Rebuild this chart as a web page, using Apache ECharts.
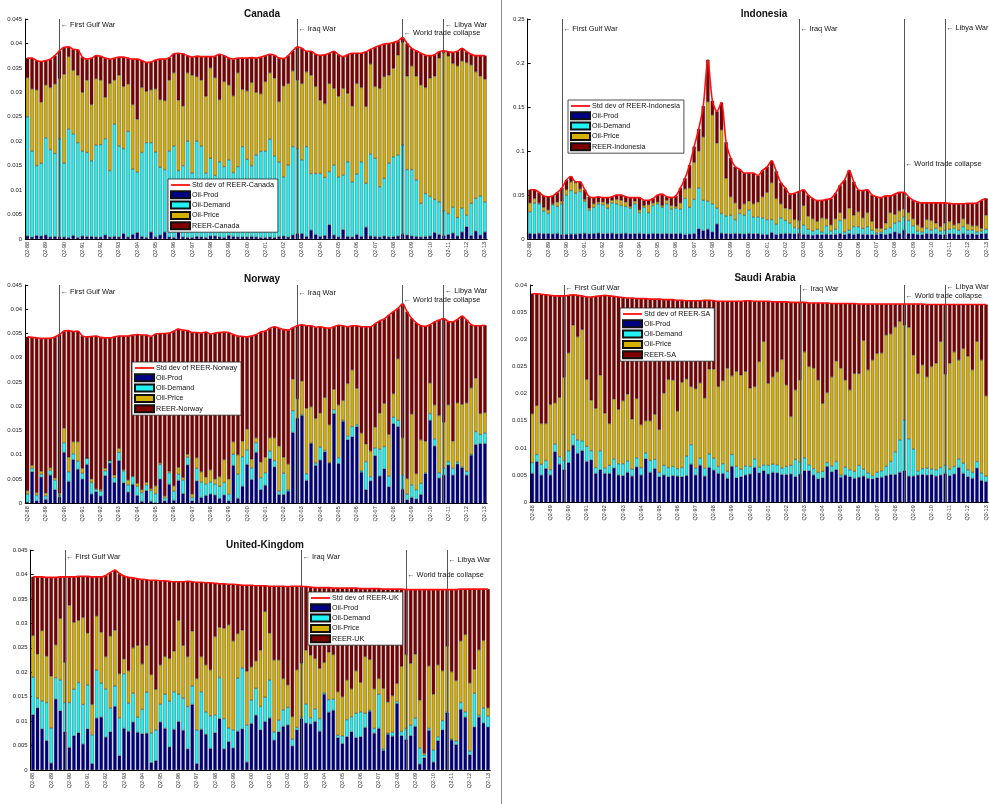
<!DOCTYPE html>
<html><head><meta charset="utf-8">
<script src="https://cdn.jsdelivr.net/npm/echarts/dist/echarts.min.js"></script>
<style>html,body{margin:0;padding:0;background:#fff}#c{width:989px;height:804px}</style>
</head><body><div id="c"></div>
<script>
// ---------- tick labels / categories ----------
const tickLabels = ['Q2-88','Q2-89','Q2-90','Q2-91','Q2-92','Q2-93','Q2-94','Q2-95','Q2-96','Q2-97','Q2-98','Q2-99','Q2-00','Q2-01','Q2-02','Q2-03','Q2-04','Q2-05','Q2-06','Q2-07','Q2-08','Q2-09','Q2-10','Q2-11','Q2-12','Q2-13'];
const categories = [];
for (let i = 0; i < 101; i++) {
  const q = (i + 1) % 4 + 1;
  const y = (88 + Math.floor((i + 1) / 4)) % 100;
  categories.push('Q' + q + '-' + String(y).padStart(2, '0'));
}
const eventNames = ['First Gulf War', 'Iraq War', 'World trade collapse', 'Libya War'];
const eventIndex = [7, 59, 82, 91];

// ---------- Canada (cumulative stack levels) ----------
const caProd = [0.0006,0.0004,0.0007,0.0006,0.0008,0.0004,0.0005,0.0004,0.0004,0.0003,
0.0007,0.0003,0.0006,0.0005,0.0005,0.0004,0.0004,0.0008,0.0004,0.0005,
0.0004,0.0011,0.0004,0.0009,0.0013,0.0005,0.0003,0.0014,0.0004,0.0008,
0.0014,0.0004,0.0003,0.0014,0.0004,0.0003,0.0003,0.0005,0.0004,0.0003,
0.0006,0.0006,0.0004,0.0003,0.0007,0.0005,0.0004,0.0004,0.0004,0.0005,
0.0004,0.0003,0.0003,0.0004,0.0003,0.0005,0.0006,0.0004,0.0008,0.0011,
0.0011,0.0005,0.0018,0.0009,0.0005,0.0007,0.0029,0.0008,0.0004,0.0019,
0.0005,0.0004,0.0009,0.0005,0.0024,0.0006,0.0005,0.0004,0.0006,0.0004,
0.0005,0.0006,0.0010,0.0008,0.0006,0.0005,0.0004,0.0005,0.0006,0.0013,
0.0009,0.0007,0.0009,0.0012,0.0006,0.0014,0.0025,0.0007,0.0016,0.0008,0.0014];
const caDemandTop = [0.0250,0.0180,0.0150,0.0155,0.0207,0.0183,0.0175,0.0205,0.0155,0.0225,
0.0215,0.0197,0.0180,0.0177,0.0160,0.0192,0.0193,0.0205,0.0140,0.0235,
0.0190,0.0185,0.0220,0.0143,0.0137,0.0177,0.0197,0.0197,0.0178,0.0147,
0.0142,0.0180,0.0190,0.0140,0.0150,0.0200,0.0135,0.0200,0.0190,0.0135,
0.0165,0.0130,0.0158,0.0148,0.0162,0.0136,0.0148,0.0189,0.0163,0.0150,
0.0172,0.0179,0.0180,0.0204,0.0170,0.0157,0.0127,0.0151,0.0189,0.0185,
0.0162,0.0189,0.0134,0.0134,0.0134,0.0126,0.0138,0.0151,0.0127,0.0131,
0.0158,0.0117,0.0133,0.0158,0.0114,0.0174,0.0165,0.0107,0.0124,0.0155,
0.0168,0.0172,0.0192,0.0142,0.0142,0.0121,0.0073,0.0093,0.0087,0.0081,
0.0076,0.0058,0.0052,0.0065,0.0044,0.0063,0.0049,0.0073,0.0083,0.0088,0.0076];
const caPriceTop = [0.0330,0.0307,0.0305,0.0280,0.0315,0.0310,0.0317,0.0328,0.0337,0.0373,
0.0345,0.0335,0.0300,0.0325,0.0275,0.0328,0.0325,0.0290,0.0318,0.0325,
0.0335,0.0312,0.0317,0.0275,0.0245,0.0310,0.0302,0.0305,0.0307,0.0285,
0.0283,0.0325,0.0340,0.0284,0.0272,0.0340,0.0335,0.0332,0.0325,0.0292,
0.0350,0.0330,0.0285,0.0322,0.0315,0.0293,0.0340,0.0306,0.0303,0.0320,
0.0300,0.0297,0.0322,0.0340,0.0329,0.0281,0.0313,0.0318,0.0344,0.0325,
0.0318,0.0342,0.0335,0.0312,0.0284,0.0277,0.0318,0.0308,0.0292,0.0308,
0.0298,0.0272,0.0318,0.0310,0.0271,0.0358,0.0312,0.0308,0.0332,0.0335,
0.0349,0.0376,0.0402,0.0333,0.0354,0.0333,0.0315,0.0310,0.0329,0.0333,
0.0370,0.0381,0.0374,0.0359,0.0354,0.0364,0.0361,0.0356,0.0342,0.0333,0.0327];
const caTotal = [0.0370,0.0370,0.0365,0.0363,0.0365,0.0368,0.0375,0.0385,0.0392,0.0393,
0.0388,0.0387,0.0372,0.0368,0.0370,0.0375,0.0374,0.0370,0.0368,0.0370,
0.0372,0.0372,0.0370,0.0368,0.0368,0.0365,0.0361,0.0362,0.0366,0.0368,
0.0368,0.0371,0.0379,0.0380,0.0379,0.0375,0.0372,0.0374,0.0373,0.0373,
0.0373,0.0374,0.0378,0.0375,0.0370,0.0368,0.0370,0.0370,0.0370,0.0371,
0.0370,0.0372,0.0375,0.0378,0.0376,0.0370,0.0369,0.0375,0.0385,0.0393,
0.0390,0.0384,0.0384,0.0378,0.0376,0.0377,0.0380,0.0384,0.0377,0.0373,
0.0377,0.0380,0.0380,0.0380,0.0383,0.0388,0.0392,0.0396,0.0399,0.0400,
0.0402,0.0405,0.0412,0.0400,0.0390,0.0385,0.0380,0.0376,0.0375,0.0377,
0.0383,0.0385,0.0383,0.0382,0.0384,0.0390,0.0383,0.0378,0.0375,0.0375,0.0375];

// ---------- Indonesia ----------
const inProd = [0.0062,0.0058,0.0064,0.0060,0.0061,0.0057,0.0063,0.0050,0.0052,0.0055,
0.0054,0.0060,0.0064,0.0058,0.0061,0.0066,0.0059,0.0062,0.0065,0.0058,
0.0061,0.0064,0.0058,0.0060,0.0063,0.0059,0.0057,0.0062,0.0060,0.0058,
0.0061,0.0059,0.0060,0.0063,0.0050,0.0056,0.0060,0.0115,0.0095,0.0110,
0.0080,0.0170,0.0065,0.0060,0.0058,0.0062,0.0060,0.0057,0.0063,0.0059,
0.0060,0.0052,0.0050,0.0072,0.0050,0.0058,0.0062,0.0060,0.0058,0.0063,
0.0052,0.0051,0.0042,0.0050,0.0048,0.0053,0.0049,0.0052,0.0061,0.0050,
0.0062,0.0050,0.0058,0.0052,0.0050,0.0049,0.0051,0.0058,0.0050,0.0060,
0.0080,0.0062,0.0100,0.0060,0.0058,0.0052,0.0050,0.0061,0.0058,0.0060,
0.0052,0.0050,0.0060,0.0058,0.0050,0.0062,0.0052,0.0058,0.0050,0.0059,0.0060];
const inDemandTop = [0.031,0.041,0.040,0.032,0.029,0.039,0.037,0.040,0.050,0.055,
0.052,0.054,0.043,0.033,0.036,0.040,0.039,0.035,0.041,0.040,
0.038,0.037,0.035,0.040,0.030,0.036,0.030,0.038,0.040,0.036,
0.040,0.034,0.035,0.034,0.046,0.036,0.045,0.058,0.044,0.043,
0.040,0.035,0.029,0.026,0.027,0.022,0.029,0.027,0.033,0.025,
0.025,0.024,0.022,0.022,0.017,0.024,0.021,0.018,0.013,0.012,
0.016,0.011,0.009,0.011,0.008,0.015,0.009,0.011,0.021,0.008,
0.010,0.014,0.014,0.012,0.014,0.010,0.007,0.008,0.011,0.013,
0.018,0.020,0.025,0.021,0.015,0.009,0.008,0.012,0.010,0.012,
0.009,0.010,0.011,0.012,0.010,0.014,0.010,0.010,0.008,0.009,0.011];
const inPriceTop = [0.041,0.046,0.041,0.036,0.033,0.040,0.042,0.043,0.056,0.065,
0.064,0.057,0.045,0.035,0.040,0.042,0.042,0.040,0.044,0.045,
0.044,0.042,0.037,0.043,0.033,0.038,0.039,0.041,0.042,0.038,
0.044,0.038,0.037,0.041,0.057,0.058,0.087,0.100,0.116,0.156,
0.141,0.109,0.124,0.069,0.048,0.041,0.034,0.040,0.043,0.040,
0.042,0.048,0.053,0.064,0.046,0.040,0.035,0.034,0.022,0.021,
0.038,0.026,0.023,0.020,0.024,0.023,0.016,0.023,0.030,0.023,
0.035,0.027,0.031,0.024,0.030,0.020,0.012,0.012,0.018,0.030,
0.028,0.032,0.034,0.030,0.023,0.016,0.013,0.022,0.021,0.018,
0.014,0.018,0.020,0.016,0.018,0.023,0.017,0.015,0.015,0.012,0.027];
const inTotal = [0.056,0.056,0.053,0.049,0.048,0.049,0.053,0.058,0.067,0.071,
0.065,0.065,0.056,0.048,0.047,0.048,0.047,0.047,0.048,0.050,
0.050,0.048,0.047,0.047,0.047,0.044,0.044,0.046,0.050,0.051,
0.048,0.047,0.049,0.058,0.069,0.084,0.105,0.125,0.151,0.2035,
0.157,0.145,0.155,0.110,0.092,0.082,0.079,0.075,0.075,0.075,
0.072,0.078,0.082,0.089,0.077,0.064,0.058,0.051,0.052,0.054,
0.056,0.050,0.046,0.0436,0.044,0.045,0.046,0.052,0.061,0.067,
0.078,0.065,0.056,0.055,0.056,0.050,0.048,0.047,0.049,0.049,
0.051,0.053,0.053,0.048,0.044,0.042,0.041,0.041,0.041,0.041,
0.041,0.041,0.0405,0.040,0.040,0.040,0.0405,0.0405,0.041,0.044,0.046];

// ---------- Norway ----------
const noProd = [0.0002,0.0065,0.0005,0.0054,0.0008,0.0058,0.0028,0.0013,0.0105,0.0045,
0.0090,0.0070,0.0050,0.0080,0.0019,0.0024,0.0015,0.0057,0.0083,0.0043,
0.0088,0.0042,0.0023,0.0039,0.0016,0.0004,0.0026,0.0004,0.0001,0.0050,
0.0005,0.0039,0.0006,0.0047,0.0020,0.0079,0.0005,0.0046,0.0012,0.0016,
0.0019,0.0017,0.0010,0.0017,0.0005,0.0078,0.0010,0.0035,0.0080,0.0049,
0.0105,0.0028,0.0037,0.0092,0.0075,0.0018,0.0018,0.0025,0.0146,0.0175,
0.0181,0.0047,0.0123,0.0078,0.0089,0.0106,0.0083,0.0185,0.0082,0.0169,
0.0131,0.0137,0.0158,0.0064,0.0028,0.0046,0.0098,0.0056,0.0071,0.0034,
0.0164,0.0158,0.0029,0.0007,0.0012,0.0009,0.0018,0.0061,0.0171,0.0118,
0.0052,0.0058,0.0079,0.0058,0.0081,0.0073,0.0058,0.0099,0.0121,0.0123,0.0123];
const noDemandTop = [0.0019,0.0072,0.0017,0.0060,0.0015,0.0068,0.0048,0.0017,0.0125,0.0065,
0.0102,0.0087,0.0062,0.0093,0.0043,0.0029,0.0025,0.0067,0.0088,0.0053,
0.0105,0.0067,0.0038,0.0055,0.0035,0.0022,0.0038,0.0026,0.0020,0.0080,
0.0011,0.0063,0.0025,0.0060,0.0048,0.0095,0.0012,0.0072,0.0044,0.0040,
0.0044,0.0040,0.0035,0.0043,0.0019,0.0101,0.0060,0.0096,0.0110,0.0073,
0.0125,0.0053,0.0063,0.0108,0.0088,0.0025,0.0062,0.0028,0.0191,0.0176,
0.0183,0.0061,0.0124,0.0083,0.0116,0.0109,0.0084,0.0193,0.0094,0.0171,
0.0139,0.0158,0.0162,0.0067,0.0086,0.0055,0.0114,0.0112,0.0117,0.0056,
0.0178,0.0171,0.0059,0.0019,0.0038,0.0028,0.0041,0.0063,0.0185,0.0133,
0.0063,0.0073,0.0086,0.0072,0.0085,0.0075,0.0066,0.0101,0.0148,0.0142,0.0145];
const noPriceTop = [0.0026,0.0078,0.0022,0.0066,0.0021,0.0073,0.0052,0.0021,0.0155,0.0095,
0.0127,0.0127,0.0072,0.0093,0.0050,0.0030,0.0028,0.0072,0.0088,0.0058,
0.0113,0.0069,0.0048,0.0056,0.0041,0.0028,0.0043,0.0030,0.0036,0.0083,
0.0015,0.0066,0.0036,0.0074,0.0053,0.0101,0.0019,0.0094,0.0065,0.0054,
0.0069,0.0050,0.0055,0.0090,0.0050,0.0127,0.0100,0.0128,0.0153,0.0091,
0.0135,0.0085,0.0095,0.0135,0.0135,0.0118,0.0095,0.0081,0.0256,0.0215,
0.0252,0.0196,0.0199,0.0175,0.0186,0.0218,0.0162,0.0235,0.0203,0.0212,
0.0247,0.0275,0.0237,0.0145,0.0122,0.0108,0.0157,0.0186,0.0206,0.0142,
0.0226,0.0298,0.0135,0.0051,0.0184,0.0061,0.0131,0.0128,0.0248,0.0203,
0.0181,0.0167,0.0203,0.0128,0.0207,0.0204,0.0207,0.0238,0.0258,0.0185,0.0187];
const noTotal = [0.0343,0.0342,0.0341,0.0340,0.0340,0.0340,0.0343,0.0348,0.0355,0.0356,
0.0354,0.0355,0.0345,0.0343,0.0344,0.0345,0.0342,0.0341,0.0341,0.0343,
0.0345,0.0345,0.0345,0.0347,0.0348,0.0347,0.0347,0.0344,0.0349,0.0350,
0.0350,0.0351,0.0355,0.0359,0.0357,0.0356,0.0352,0.0352,0.0351,0.0353,
0.0349,0.0351,0.0352,0.0353,0.0352,0.0348,0.0345,0.0344,0.0343,0.0345,
0.0348,0.0353,0.0355,0.0361,0.0364,0.0361,0.0358,0.0357,0.0362,0.0366,
0.0368,0.0366,0.0366,0.0363,0.0364,0.0362,0.0361,0.0364,0.0367,0.0366,
0.0364,0.0366,0.0366,0.0364,0.0364,0.0364,0.0370,0.0376,0.0380,0.0388,
0.0395,0.0402,0.0411,0.0395,0.0381,0.0372,0.0366,0.0365,0.0368,0.0374,
0.0378,0.0381,0.0375,0.0374,0.0379,0.0386,0.0378,0.0368,0.0366,0.0366,0.0367];

// ---------- Saudi Arabia ----------
const saProd = [0.0053,0.0075,0.0050,0.0062,0.0050,0.0093,0.0070,0.0060,0.0073,0.0105,
0.0090,0.0095,0.0075,0.0078,0.0053,0.0060,0.0053,0.0053,0.0063,0.0050,
0.0049,0.0055,0.0048,0.0065,0.0050,0.0080,0.0055,0.0062,0.0047,0.0050,
0.0047,0.0049,0.0048,0.0047,0.0049,0.0070,0.0050,0.0068,0.0048,0.0064,
0.0059,0.0053,0.0053,0.0044,0.0066,0.0045,0.0047,0.0050,0.0052,0.0064,
0.0054,0.0058,0.0052,0.0055,0.0054,0.0051,0.0051,0.0052,0.0047,0.0052,
0.0058,0.0058,0.0050,0.0043,0.0045,0.0066,0.0056,0.0060,0.0046,0.0050,
0.0047,0.0044,0.0046,0.0048,0.0044,0.0043,0.0045,0.0046,0.0049,0.0051,
0.0051,0.0055,0.0058,0.0048,0.0048,0.0050,0.0051,0.0050,0.0051,0.0048,
0.0050,0.0053,0.0049,0.0052,0.0064,0.0053,0.0047,0.0044,0.0063,0.0040,0.0038];
const saDemandTop = [0.0073,0.0088,0.0070,0.0077,0.0060,0.0107,0.0084,0.0077,0.0095,0.0125,
0.0115,0.0113,0.0103,0.0095,0.0064,0.0095,0.0063,0.0068,0.0080,0.0071,
0.0071,0.0076,0.0061,0.0082,0.0064,0.0091,0.0077,0.0079,0.0055,0.0068,
0.0064,0.0066,0.0062,0.0064,0.0085,0.0106,0.0063,0.0081,0.0063,0.0089,
0.0081,0.0066,0.0071,0.0057,0.0088,0.0066,0.0061,0.0067,0.0066,0.0080,
0.0065,0.0069,0.0068,0.0070,0.0069,0.0063,0.0066,0.0068,0.0079,0.0074,
0.0082,0.0069,0.0062,0.0055,0.0057,0.0073,0.0067,0.0075,0.0050,0.0065,
0.0060,0.0057,0.0068,0.0061,0.0054,0.0049,0.0055,0.0058,0.0066,0.0075,
0.0093,0.0115,0.0152,0.0117,0.0098,0.0058,0.0062,0.0063,0.0061,0.0060,
0.0064,0.0068,0.0061,0.0066,0.0080,0.0072,0.0060,0.0055,0.0075,0.0054,0.0048];
const saPriceTop = [0.0163,0.0178,0.0145,0.0145,0.0180,0.0183,0.0193,0.0230,0.0275,0.0326,
0.0305,0.0318,0.0226,0.0188,0.0173,0.0234,0.0164,0.0145,0.0190,0.0171,
0.0187,0.0199,0.0153,0.0191,0.0143,0.0150,0.0150,0.0162,0.0134,0.0201,
0.0226,0.0225,0.0168,0.0221,0.0227,0.0213,0.0209,0.0220,0.0192,0.0245,
0.0245,0.0213,0.0224,0.0247,0.0233,0.0241,0.0234,0.0241,0.0210,0.0213,
0.0259,0.0296,0.0219,0.0231,0.0240,0.0263,0.0216,0.0158,0.0207,0.0225,
0.0277,0.0250,0.0247,0.0225,0.0182,0.0202,0.0231,0.0260,0.0247,0.0225,
0.0207,0.0237,0.0237,0.0298,0.0244,0.0262,0.0274,0.0275,0.0308,0.0310,
0.0323,0.0333,0.0326,0.0322,0.0271,0.0237,0.0253,0.0231,0.0250,0.0256,
0.0296,0.0236,0.0256,0.0277,0.0262,0.0283,0.0269,0.0244,0.0296,0.0262,0.0196];
const saTotal = [0.0384,0.0384,0.0383,0.0382,0.0381,0.0380,0.0380,0.0380,0.0381,0.0382,
0.0381,0.0380,0.0378,0.0378,0.0379,0.0380,0.0381,0.0380,0.0379,0.0378,
0.0377,0.0376,0.0376,0.0375,0.0375,0.0375,0.0374,0.0374,0.0374,0.0373,
0.0373,0.0373,0.0372,0.0372,0.0371,0.0371,0.0371,0.0371,0.0372,0.0372,
0.0371,0.0370,0.0370,0.0370,0.0370,0.0370,0.0370,0.0371,0.0371,0.0370,
0.0370,0.0370,0.0370,0.0369,0.0369,0.0369,0.0369,0.0368,0.0368,0.0368,
0.0368,0.0367,0.0367,0.0367,0.0367,0.0367,0.0366,0.0366,0.0366,0.0366,
0.0366,0.0366,0.0365,0.0365,0.0365,0.0365,0.0365,0.0365,0.0365,0.0365,
0.0365,0.0365,0.0365,0.0365,0.0365,0.0365,0.0365,0.0364,0.0364,0.0364,
0.0364,0.0364,0.0364,0.0364,0.0364,0.0364,0.0364,0.0364,0.0364,0.0364,0.0364];

// ---------- United-Kingdom ----------
const ukProd = [0.0113,0.0127,0.0084,0.0060,0.0014,0.0145,0.0121,0.0078,0.0046,0.0070,
0.0076,0.0053,0.0084,0.0013,0.0106,0.0108,0.0067,0.0078,0.0130,0.0029,
0.0085,0.0079,0.0098,0.0077,0.0074,0.0075,0.0015,0.0019,0.0098,0.0085,
0.0047,0.0083,0.0099,0.0081,0.0043,0.0134,0.0013,0.0083,0.0073,0.0044,
0.0076,0.0105,0.0043,0.0058,0.0045,0.0079,0.0084,0.0016,0.0095,0.0112,
0.0082,0.0099,0.0106,0.0061,0.0078,0.0089,0.0092,0.0049,0.0082,0.0105,
0.0096,0.0094,0.0099,0.0079,0.0155,0.0118,0.0122,0.0066,0.0054,0.0068,
0.0078,0.0066,0.0068,0.0087,0.0120,0.0075,0.0085,0.0040,0.0073,0.0069,
0.0136,0.0070,0.0062,0.0070,0.0089,0.0012,0.0025,0.0081,0.0016,0.0060,
0.0082,0.0117,0.0061,0.0052,0.0124,0.0108,0.0031,0.0088,0.0108,0.0096,0.0088];
const ukDemandTop = [0.0190,0.0147,0.0141,0.0138,0.0086,0.0189,0.0184,0.0138,0.0138,0.0165,
0.0179,0.0134,0.0174,0.0072,0.0204,0.0178,0.0166,0.0127,0.0172,0.0107,
0.0197,0.0137,0.0157,0.0108,0.0124,0.0159,0.0076,0.0082,0.0135,0.0155,
0.0141,0.0160,0.0155,0.0147,0.0130,0.0172,0.0082,0.0160,0.0119,0.0111,
0.0113,0.0189,0.0105,0.0086,0.0082,0.0188,0.0209,0.0092,0.0143,0.0167,
0.0130,0.0149,0.0184,0.0078,0.0102,0.0123,0.0128,0.0063,0.0087,0.0108,
0.0135,0.0107,0.0125,0.0105,0.0158,0.0144,0.0145,0.0071,0.0070,0.0103,
0.0109,0.0116,0.0119,0.0116,0.0122,0.0085,0.0155,0.0043,0.0075,0.0077,
0.0140,0.0079,0.0085,0.0092,0.0106,0.0045,0.0031,0.0085,0.0041,0.0068,
0.0101,0.0119,0.0063,0.0059,0.0138,0.0119,0.0039,0.0157,0.0112,0.0127,0.0110];
const ukPriceTop = [0.0275,0.0237,0.0285,0.0233,0.0192,0.0256,0.0310,0.0220,0.0337,0.0302,
0.0306,0.0312,0.0280,0.0134,0.0315,0.0282,0.0232,0.0274,0.0286,0.0197,
0.0227,0.0203,0.0250,0.0255,0.0217,0.0255,0.0195,0.0165,0.0215,0.0232,
0.0228,0.0243,0.0306,0.0255,0.0232,0.0284,0.0187,0.0232,0.0215,0.0205,
0.0273,0.0292,0.0290,0.0297,0.0264,0.0279,0.0286,0.0202,0.0211,0.0223,
0.0245,0.0324,0.0280,0.0225,0.0225,0.0187,0.0174,0.0109,0.0205,0.0218,
0.0245,0.0235,0.0228,0.0208,0.0220,0.0241,0.0236,0.0160,0.0150,0.0184,
0.0166,0.0203,0.0179,0.0232,0.0226,0.0166,0.0187,0.0167,0.0139,0.0152,
0.0177,0.0212,0.0236,0.0218,0.0237,0.0143,0.0034,0.0213,0.0155,0.0215,
0.0203,0.0253,0.0201,0.0183,0.0264,0.0277,0.0178,0.0206,0.0246,0.0265,0.0127];
const ukTotal = [0.0395,0.0395,0.0395,0.0394,0.0394,0.0394,0.0395,0.0395,0.0395,0.0395,
0.0396,0.0396,0.0396,0.0395,0.0395,0.0395,0.0398,0.0404,0.0409,0.0402,
0.0397,0.0394,0.0393,0.0391,0.0390,0.0389,0.0388,0.0388,0.0387,0.0387,
0.0386,0.0385,0.0385,0.0385,0.0386,0.0385,0.0384,0.0384,0.0383,0.0383,
0.0382,0.0381,0.0381,0.0380,0.0380,0.0379,0.0378,0.0378,0.0378,0.0377,
0.0377,0.0377,0.0376,0.0376,0.0376,0.0376,0.0375,0.0376,0.0376,0.0376,
0.0375,0.0374,0.0373,0.0373,0.0373,0.0373,0.0372,0.0372,0.0372,0.0372,
0.0372,0.0372,0.0371,0.0371,0.0371,0.0371,0.0371,0.0370,0.0370,0.0370,
0.0370,0.0370,0.0369,0.0369,0.0369,0.0369,0.0369,0.0369,0.0369,0.0369,
0.0369,0.0369,0.0369,0.0369,0.0370,0.0370,0.0370,0.0370,0.0370,0.0370,0.0370];

// ---------- layout / style ----------
const COLORS = { prod: '#000086', demand: '#1ff3f3', price: '#d6b000', reer: '#800000', line: '#ff1010' };
const NARROW = "'Liberation Sans Narrow','Arial Narrow','Liberation Sans',Arial,sans-serif";
const SANS = "'Liberation Sans',Arial,sans-serif";
const LINE_ICON = 'path://M0,0 L19,0 L19,1.8 L0,1.8 Z';

const panels = [
  { title: 'Canada', reer: 'REER-Canada', prod: caProd, dem: caDemandTop, price: caPriceTop, total: caTotal,
    grid: { left: 25.2, top: 19, width: 462, height: 220 }, yMax: 0.045, yInt: 0.005,
    titlePos: [257, 4], legendPos: [168, 179],
    evY: [0.0438, 0.0430, 0.0421, 0.0438] },
  { title: 'Indonesia', reer: 'REER-Indonesia', prod: inProd, dem: inDemandTop, price: inPriceTop, total: inTotal,
    grid: { left: 527.7, top: 19, width: 462, height: 220 }, yMax: 0.25, yInt: 0.05,
    titlePos: [759, 4], legendPos: [568, 100],
    evY: [0.2386, 0.2386, 0.085, 0.2395] },
  { title: 'Norway', reer: 'REER-Norway', prod: noProd, dem: noDemandTop, price: noPriceTop, total: noTotal,
    grid: { left: 25.2, top: 285, width: 462, height: 218.3 }, yMax: 0.045, yInt: 0.005,
    titlePos: [257, 269], legendPos: [132, 362],
    evY: [0.0436, 0.0433, 0.0419, 0.0438] },
  { title: 'Saudi Arabia', reer: 'REER-SA', prod: saProd, dem: saDemandTop, price: saPriceTop, total: saTotal,
    grid: { left: 530, top: 285, width: 462, height: 217.3 }, yMax: 0.04, yInt: 0.005,
    titlePos: [760, 268], legendPos: [620, 308],
    evY: [0.0395, 0.0393, 0.0380, 0.0397] },
  { title: 'United-Kingdom', reer: 'REER-UK', prod: ukProd, dem: ukDemandTop, price: ukPriceTop, total: ukTotal,
    grid: { left: 30.7, top: 550, width: 459.6, height: 220 }, yMax: 0.045, yInt: 0.005,
    titlePos: [260, 535], legendPos: [308, 592],
    evY: [0.0436, 0.0436, 0.0399, 0.0430] }
];

const grids = [], xAxes = [], yAxes = [], series = [], titles = [], legends = [];
panels.forEach((p, k) => {
  grids.push(Object.assign({ containLabel: false }, p.grid));
  xAxes.push({
    type: 'category', gridIndex: k, data: categories, boundaryGap: true,
    axisLine: { show: true, lineStyle: { color: '#000', width: 1 } },
    axisTick: { show: false },
    axisLabel: { rotate: 90, fontSize: 5.5, color: '#333', fontFamily: SANS, margin: 3,
      interval: (i) => i % 4 === 0 }
  });
  yAxes.push({
    type: 'value', gridIndex: k, min: 0, max: p.yMax, interval: p.yInt,
    splitLine: { show: false },
    axisLine: { show: true, lineStyle: { color: '#000', width: 1 } },
    axisTick: { show: true, inside: true, length: 3, lineStyle: { color: '#000' } },
    axisLabel: { fontSize: 6, color: '#222', fontFamily: SANS, margin: 3 }
  });
  const demand = p.dem.map((v, i) => +(Math.max(0, v - p.prod[i])).toFixed(5));
  const price = p.price.map((v, i) => +(Math.max(0, v - p.dem[i])).toFixed(5));
  const reer = p.total.map((v, i) => +(Math.max(0, v - p.price[i])).toFixed(5));
  const barBase = { type: 'bar', xAxisIndex: k, yAxisIndex: k, stack: 'p' + k, barCategoryGap: '26%',
    animation: false };
  const bs = (c) => ({ color: c, borderColor: '#111', borderWidth: 0.35 });
  series.push(Object.assign({}, barBase, { name: 'Oil-Prod', data: p.prod, itemStyle: bs(COLORS.prod) }));
  series.push(Object.assign({}, barBase, { name: 'Oil-Demand', data: demand, itemStyle: bs(COLORS.demand) }));
  series.push(Object.assign({}, barBase, { name: 'Oil-Price', data: price, itemStyle: bs(COLORS.price) }));
  series.push(Object.assign({}, barBase, { name: p.reer, data: reer, itemStyle: bs(COLORS.reer) }));
  const stdName = 'Std dev of ' + p.reer;
  series.push({
    type: 'line', name: stdName, xAxisIndex: k, yAxisIndex: k, data: p.total,
    symbol: 'none', smooth: 0.25, z: 5, animation: false,
    lineStyle: { color: COLORS.line, width: 1.6 }, itemStyle: { color: COLORS.line },
    markLine: {
      silent: true, symbol: 'none', animation: false,
      lineStyle: { color: '#555', width: 1, type: 'solid' }, label: { show: false },
      data: eventIndex.map(ix => [{ coord: [ix, p.yMax] }, { coord: [ix, 0] }])
    },
    markPoint: {
      silent: true, symbol: 'circle', symbolSize: 0, animation: false,
      label: { show: true, position: 'right', distance: 1, fontSize: 7.4, color: '#111', fontFamily: NARROW },
      data: eventIndex.map((ix, j) => ({ coord: [ix, p.evY[j]], value: 0,
        label: { formatter: '\u2190 ' + eventNames[j] } }))
    }
  });
  titles.push({ text: p.title, left: p.titlePos[0], top: p.titlePos[1], textAlign: 'center',
    textStyle: { fontSize: 10, fontWeight: 'bold', color: '#111', fontFamily: SANS } });
  legends.push({
    orient: 'vertical', left: p.legendPos[0], top: p.legendPos[1],
    data: [stdName, 'Oil-Prod', 'Oil-Demand', 'Oil-Price', p.reer].map((n, j) => ({ name: n, icon: j === 0 ? LINE_ICON : 'rect' })),
    backgroundColor: '#fff', borderColor: '#222', borderWidth: 0.8, borderRadius: 0,
    padding: [2, 4, 2, 2], itemGap: 1.3, itemWidth: 19, itemHeight: 7,
    selectedMode: false,
    textStyle: { fontSize: 7.2, lineHeight: 8, color: '#111', fontFamily: NARROW, padding: [0, 0, 0, -3] }
  });
});

const chart = echarts.init(document.getElementById('c'), null, { renderer: 'canvas' });
chart.setOption({
  backgroundColor: '#fff',
  animation: false,
  title: titles,
  legend: legends,
  grid: grids,
  xAxis: xAxes,
  yAxis: yAxes,
  series: series,
  graphic: [{ type: 'line', shape: { x1: 501.5, y1: 0, x2: 501.5, y2: 804 }, style: { stroke: '#888', lineWidth: 1 }, z: 100 }]
});
</script>
</body></html>
